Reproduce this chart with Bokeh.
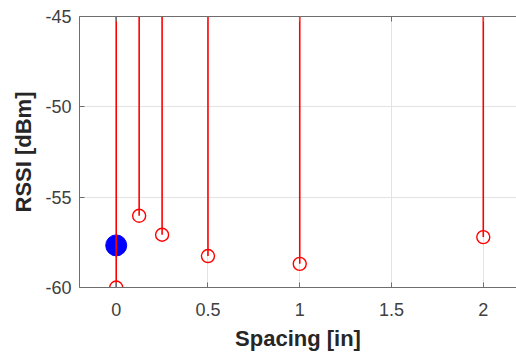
from bokeh.plotting import figure
from bokeh.models import LinearAxis, Range1d, FixedTicker
from bokeh.embed import file_html
from bokeh.resources import INLINE

# Data
spacing = [0, 0.125, 0.25, 0.5, 1, 2]
rssi = [-60.0, -56.03, -57.08, -58.26, -58.69, -57.21]
ref_x = [0]
ref_y = [-57.67]
stem_base = -40.0
x_ticks = [0, 0.5, 1, 1.5, 2]
x_labels = ["0", "0.5", "1", "1.5", "2"]
y_ticks = [-60, -55, -50, -45]
y_labels = ["-60", "-55", "-50", "-45"]

FONT = "Liberation Sans"
AX = "#262626"

p = figure(width=516, height=353, output_backend="svg", toolbar_location=None,
           x_range=Range1d(-0.2, 2.181), y_range=Range1d(-60, -45),
           min_border_left=79, min_border_right=0, min_border_top=16,
           min_border_bottom=66)
p.outline_line_color = None
p.background_fill_color = "white"
p.border_fill_color = "white"

for ax in (p.xaxis[0], p.yaxis[0]):
    ax.major_tick_in = 5
    ax.major_tick_out = 0
    ax.minor_tick_in = 0
    ax.minor_tick_out = 0
    ax.axis_line_color = "#6e6e6e"
    ax.major_tick_line_color = "#6e6e6e"
    ax.major_label_text_font = FONT
    ax.major_label_text_font_size = "18px"
    ax.major_label_text_color = "#404040"
    ax.axis_label_text_font = FONT
    ax.axis_label_text_font_size = "22px"
    ax.axis_label_text_font_style = "bold"
    ax.axis_label_text_color = AX

p.xaxis.ticker = FixedTicker(ticks=x_ticks)
p.yaxis.ticker = FixedTicker(ticks=y_ticks)
p.xaxis.major_label_overrides = dict(zip(x_ticks, x_labels))
p.yaxis.major_label_overrides = dict(zip(y_ticks, y_labels))
p.xaxis.axis_label = "Spacing [in]"
p.yaxis.axis_label = "RSSI [dBm]"
p.xaxis.major_label_standoff = 15
p.xaxis.axis_label_standoff = 7
p.yaxis.major_label_standoff = 8
p.yaxis.axis_label_standoff = 6

top = LinearAxis(ticker=FixedTicker(ticks=x_ticks), major_tick_in=5, major_tick_out=0,
                 minor_tick_in=0, minor_tick_out=0, major_label_text_font_size="0px",
                 major_label_standoff=0, axis_line_color="#6e6e6e",
                 major_tick_line_color="#6e6e6e")
top.major_label_overrides = {t: "" for t in x_ticks}
p.add_layout(top, "above")

p.xgrid.ticker = FixedTicker(ticks=x_ticks)
p.ygrid.ticker = FixedTicker(ticks=y_ticks)
p.grid.grid_line_color = "#e3e3e3"
p.grid.grid_line_width = 1

p.scatter(ref_x, ref_y, size=21, marker="circle", fill_color="#0000ff", line_color="#0000ff")
p.segment(x0=spacing, y0=rssi, x1=spacing, y1=[stem_base] * len(spacing),
          line_color="#ff0000", line_width=1.6)
p.scatter(spacing, rssi, size=13, marker="circle", fill_color=None,
          line_color="#ff0000", line_width=1.4)

open("out.html", "w").write(file_html(p, INLINE))
